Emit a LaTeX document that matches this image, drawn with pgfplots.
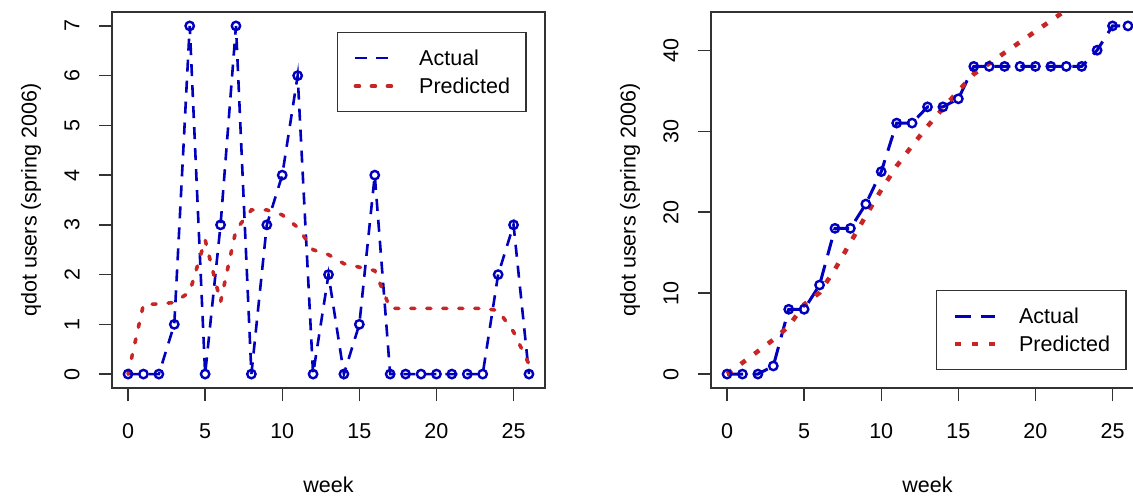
\documentclass[border=0pt]{standalone}
\usepackage{fontspec}
\setmainfont{Liberation Sans}
\usepackage{pgfplots}
\pgfplotsset{compat=1.18}
\usepackage{pgfplotstable}
\definecolor{actblue}{RGB}{0,0,190}
\definecolor{predred}{RGB}{200,38,38}
\definecolor{frame}{RGB}{50,50,50}

\pgfplotstableread{
week actual predicted
0 0 0.00
1 0 1.40
2 0 1.41
3 1 1.44
4 7 1.65
5 0 2.70
6 3 1.45
7 7 2.90
8 0 3.30
9 3 3.30
10 4 3.20
11 6 2.95
12 0 2.50
13 2 2.40
14 0 2.22
15 1 2.15
16 4 2.08
17 0 1.32
18 0 1.32
19 0 1.32
20 0 1.32
21 0 1.32
22 0 1.32
23 0 1.32
24 2 1.28
25 3 0.85
26 0 0.20
}\weekly

\pgfplotstableread{
week actual predicted
0 0 0.00
1 0 1.40
2 0 2.81
3 1 4.25
4 8 5.90
5 8 8.60
6 11 10.05
7 18 12.95
8 18 16.25
9 21 19.55
10 25 22.75
11 31 25.70
12 31 28.20
13 33 30.60
14 33 32.82
15 34 34.97
16 38 37.05
17 38 38.37
18 38 39.69
19 38 41.01
20 38 42.33
21 38 43.65
22 38 44.97
23 38 46.29
24 40 47.57
25 43 48.42
26 43 48.62
}\cumul

\pgfplotsset{
  rstyle/.style={
    width=433pt, height=376pt, scale only axis,
    xmin=-1.04, xmax=27.04,
    xtick={0,5,...,25},
    tick align=outside,
    major tick length=13pt,
    xtick pos=bottom, ytick pos=left,
    tick style={line width=1.3pt, color=frame},
    axis line style={line width=1.5pt, color=frame},
    /pgf/number format/assume math mode=true,
    xticklabel style={anchor=center, yshift=-30pt},
    yticklabel style={xshift=-27pt, rotate=90, anchor=center},
    xlabel={week},
    ylabel={qdot users (spring 2006)},
    xlabel style={at={([yshift=-97pt]axis description cs:0.5,0)}, anchor=center},
    ylabel style={at={([xshift=-81pt]axis description cs:0,0.5)}, anchor=center, rotate=0},
    legend cell align=left,
    legend style={draw=frame, line width=1.3pt, inner xsep=16pt, inner ysep=18pt,
      row sep=13pt, column sep=22pt, anchor=north west,
      nodes={inner sep=0pt, text height=15pt, text depth=0pt}},
    legend image code/.code={\draw[##1] (0pt,0pt) -- (40pt,0pt);},
  },
  actual/.style={color=actblue, line width=2.6pt, dash pattern=on 12pt off 9pt,
    mark=o, mark size=4.2pt, mark options={solid, line width=2.4pt}},
}

\begin{document}
\begin{tikzpicture}[font=\fontsize{21.5}{25}\selectfont]
\useasboundingbox (0,0) rectangle (1133pt,496pt);
\begin{axis}[rstyle,
  at={(112pt,108pt)}, anchor=south west,
  ymin=-0.28, ymax=7.28, ytick={0,1,...,7},
  legend style={at={(0.5196,0.9468)}},
]
\addplot[actual] table[x=week, y=actual] {\weekly};
\addlegendentry{Actual}
\addplot[color=predred, line width=3.6pt, dash pattern=on 4pt off 12pt, line cap=round] table[x=week, y=predicted] {\weekly};
\addlegendentry{Predicted}
\end{axis}

\begin{axis}[rstyle,
  at={(711pt,108pt)}, anchor=south west,
  ymin=-1.72, ymax=44.72, ytick={0,10,...,40},
  legend style={at={(0.5196,0.2606)}},
]
\addplot[color=actblue, line width=3pt, dash pattern=on 16pt off 10pt,
    mark=o, mark size=4.2pt, mark options={solid, line width=2.4pt}] table[x=week, y=actual] {\cumul};
\addlegendentry{Actual}
\addplot[color=predred, line width=4.5pt, dash pattern=on 6pt off 11pt] table[x=week, y=predicted] {\cumul};
\addlegendentry{Predicted}
\end{axis}
\end{tikzpicture}
\end{document}
